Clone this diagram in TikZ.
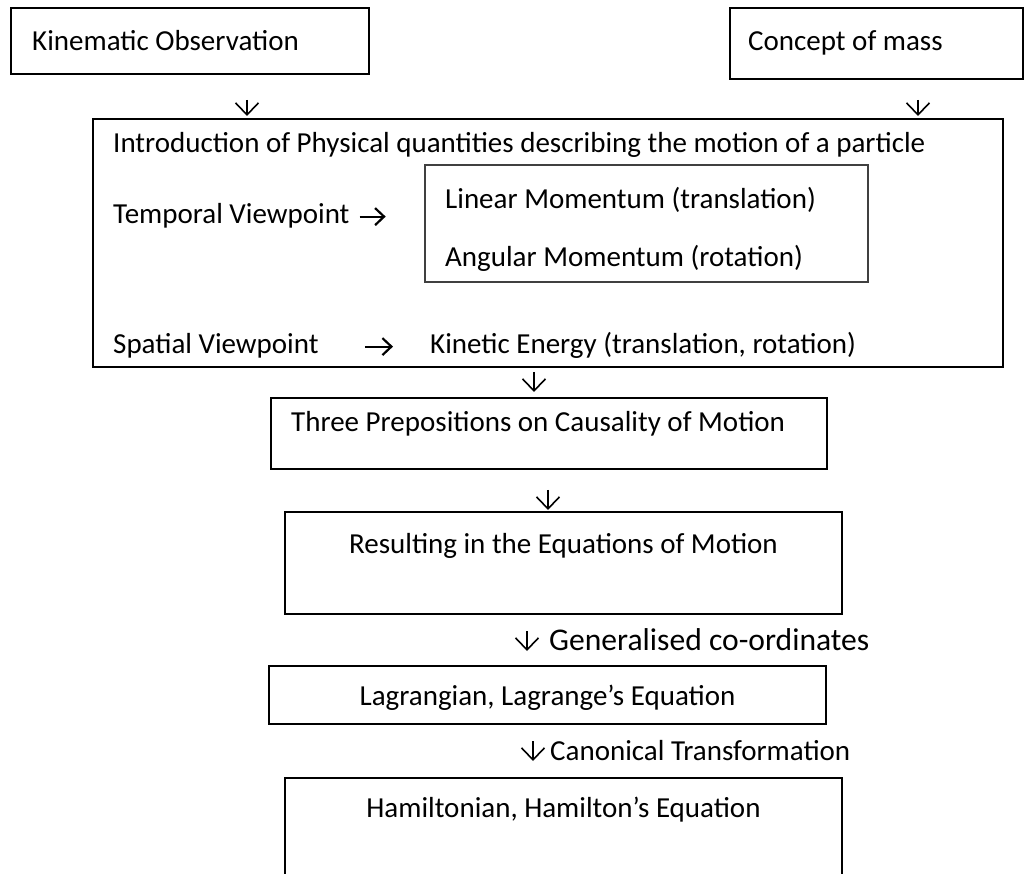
\documentclass[tikz,border=0pt]{standalone}
\usepackage{fontspec}
\setmainfont{Carlito}
\usepackage{tikz}
\usetikzlibrary{arrows.meta,calc}

\begin{document}
\begin{tikzpicture}[x=1pt,y=-1pt,
  font=\fontsize{29pt}{35pt}\selectfont,
  box/.style={draw,line width=2pt,inner sep=0pt},
  txt/.style={inner sep=0pt,anchor=base west},
  mid/.style={inner sep=0pt,anchor=base},
  dn/.style={-{Straight Barb[length=12pt,width=23pt,line width=1.6pt]},line width=1.6pt},
  rt/.style={-{Straight Barb[length=9pt,width=17pt,line width=2.2pt]},line width=2.2pt}]
\useasboundingbox (0,0) rectangle (1026,874);
\clip (0,0) rectangle (1026,874);
\node[box,minimum width=358pt,minimum height=66pt] (ko) at (190,41) {};
\node[txt] (kot) at (32,51) {Kinematic Observation};
\node[box,minimum width=293pt,minimum height=71pt] (cm) at (876.5,43.5) {};
\node[txt] (cmt) at (748,51) {Concept of mass};
\node[box,minimum width=910pt,minimum height=248pt] (big) at (548,243) {};
\node[box,line width=1.2pt,draw=black!75,minimum width=443pt,minimum height=117pt] (mom) at (646.5,223.5) {};
\node[txt] (intro) at (113,153) {Introduction of Physical quantities describing the motion of a particle};
\node[txt] (tv) at (113,224) {Temporal Viewpoint};
\node[txt] (lm) at (445,209) {Linear Momentum (translation)};
\node[txt] (am) at (445,267) {Angular Momentum (rotation)};
\node[txt] (sv) at (113,354) {Spatial Viewpoint};
\node[txt] (ke) at (430,354) {Kinetic Energy (translation, rotation)};
\draw[rt,shorten <=10pt] ([yshift=5pt]tv.mid east) -- ++(36,0);
\draw[rt,shorten <=46pt,shorten >=37pt] ([yshift=5pt]sv.mid east) -- ([yshift=5pt]ke.mid west);
\node[box,minimum width=556pt,minimum height=71pt] (tp) at (549,433.5) {};
\node[txt] (tpt) at (291,432) {Three Prepositions on Causality of Motion};
\node[box,minimum width=557pt,minimum height=102pt] (res) at (563.5,563) {};
\node[mid] (rest) at (563.5,553) {Resulting in the Equations of Motion};
\node[box,minimum width=557pt,minimum height=58pt] (lag) at (547.5,695) {};
\node[mid] (lagt) at (547.5,705) {Lagrangian, Lagrange’s Equation};
\node[box,minimum width=557pt,minimum height=104pt] (ham) at (563.5,830) {};
\node[mid] (hamt) at (563.5,817) {Hamiltonian, Hamilton’s Equation};
\coordinate (a1) at (247,100);
\coordinate (a2) at (918,100);
\coordinate (a3) at (534,0);
\coordinate (a4) at (548,0);
\coordinate (a5) at (527,0);
\coordinate (a6) at (533,0);
\draw[dn,shorten >=2pt] (a1) -- (a1 |- big.north);
\draw[dn,shorten >=2pt] (a2) -- (a2 |- big.north);
\draw[dn,shorten <=4pt,shorten >=5pt] (a3 |- big.south) -- (a3 |- tp.north);
\draw[dn,shorten <=20pt,shorten >=1pt] (a4 |- tp.south) -- (a4 |- res.north);
\draw[dn,shorten <=16pt,shorten >=14pt] (a5 |- res.south) -- (a5 |- lag.north);
\node[txt,font=\fontsize{31.6pt}{38pt}\selectfont] (gc) at (549,650) {Generalised co-ordinates};
\draw[dn,shorten <=16pt,shorten >=16pt] (a6 |- lag.south) -- (a6 |- ham.north);
\node[txt] (ct) at (550,760) {Canonical Transformation};
\end{tikzpicture}
\end{document}
